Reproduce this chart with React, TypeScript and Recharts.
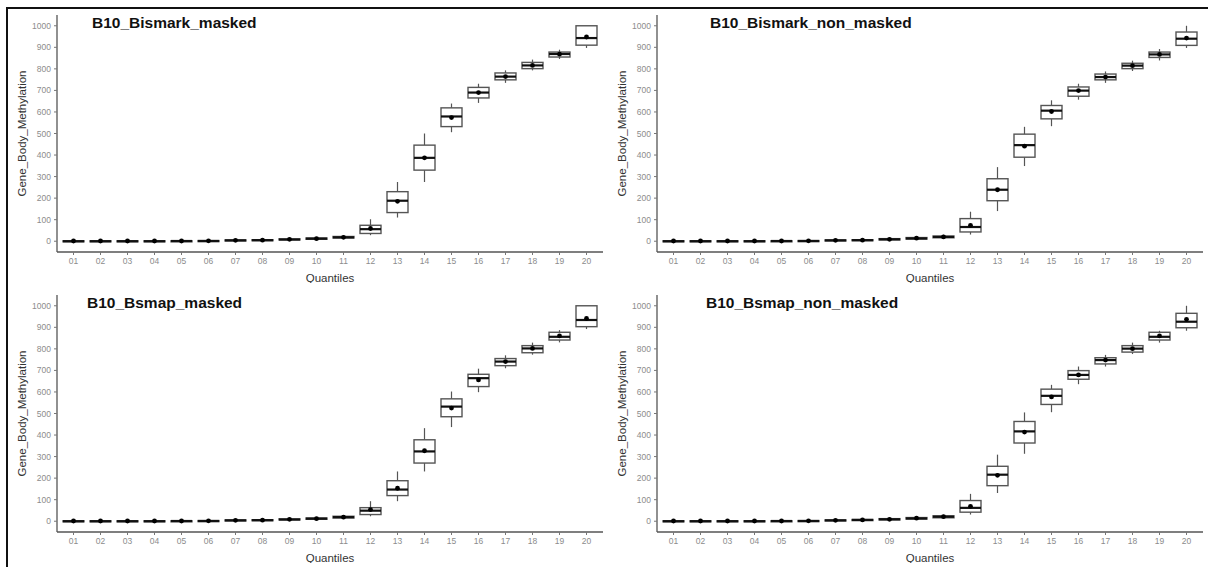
import React from 'react';
import { ComposedChart, Bar, XAxis, YAxis } from 'recharts';

// Quantile categories on the x axis
const quantiles = ['01', '02', '03', '04', '05', '06', '07', '08', '09', '10',
  '11', '12', '13', '14', '15', '16', '17', '18', '19', '20'];

const yTicks = [0, 100, 200, 300, 400, 500, 600, 700, 800, 900, 1000];

// each entry: [min, q1, median, q3, max, mean]
const bismarkMasked = [
  [0, 0, 0, 2, 4, 1], [0, 0, 0, 2, 4, 1], [0, 0, 0, 2, 4, 1], [0, 0, 0, 2, 4, 1],
  [0, 0, 1, 2, 5, 1], [0, 0, 1, 3, 5, 2], [1, 2, 4, 6, 9, 4], [2, 3, 5, 7, 10, 5],
  [3, 6, 8, 11, 15, 9], [5, 9, 12, 15, 20, 12], [10, 15, 18, 22, 28, 18],
  [28, 36, 56, 74, 102, 59], [110, 133, 188, 230, 275, 185], [275, 330, 387, 446, 500, 387],
  [506, 532, 579, 619, 639, 574], [642, 665, 690, 714, 731, 690], [735, 749, 764, 781, 793, 764],
  [793, 801, 816, 830, 843, 816], [846, 855, 869, 878, 889, 868], [897, 910, 943, 1000, 1000, 948],
];

const bismarkNonMasked = [
  [0, 0, 0, 2, 4, 1], [0, 0, 0, 2, 4, 1], [0, 0, 0, 2, 4, 1], [0, 0, 0, 2, 4, 1],
  [0, 0, 1, 2, 5, 1], [0, 0, 1, 3, 5, 2], [1, 2, 4, 6, 9, 4], [2, 3, 5, 7, 10, 5],
  [3, 6, 9, 12, 16, 9], [6, 10, 13, 17, 22, 14], [11, 16, 20, 24, 30, 20],
  [31, 43, 66, 105, 137, 74], [140, 188, 239, 290, 344, 239], [349, 390, 446, 497, 531, 441],
  [534, 568, 606, 630, 654, 602], [657, 673, 699, 716, 731, 699], [735, 749, 762, 776, 788, 762],
  [790, 801, 815, 826, 838, 815], [839, 853, 867, 878, 892, 867], [897, 909, 940, 971, 1000, 943],
];

const bsmapMasked = [
  [0, 0, 0, 2, 4, 1], [0, 0, 0, 2, 4, 1], [0, 0, 0, 2, 4, 1], [0, 0, 0, 2, 4, 1],
  [0, 0, 1, 2, 5, 1], [0, 0, 1, 3, 5, 2], [1, 2, 4, 6, 9, 4], [2, 3, 5, 7, 10, 5],
  [3, 6, 8, 11, 15, 9], [5, 9, 12, 15, 20, 12], [10, 15, 19, 23, 28, 19],
  [23, 31, 49, 63, 93, 54], [93, 119, 147, 188, 231, 153], [231, 270, 324, 378, 432, 327],
  [437, 485, 532, 568, 602, 525], [599, 625, 664, 682, 708, 656], [710, 722, 741, 755, 770, 741],
  [773, 782, 802, 815, 829, 802], [830, 841, 856, 877, 887, 860], [892, 903, 934, 1000, 1000, 941],
];

const bsmapNonMasked = [
  [0, 0, 0, 2, 4, 1], [0, 0, 0, 2, 4, 1], [0, 0, 0, 2, 4, 1], [0, 0, 0, 2, 4, 1],
  [0, 0, 1, 2, 5, 1], [0, 0, 1, 3, 5, 2], [1, 2, 4, 6, 9, 4], [2, 3, 6, 8, 11, 6],
  [3, 6, 9, 12, 16, 9], [6, 10, 13, 17, 22, 14], [11, 16, 21, 25, 30, 21],
  [31, 42, 62, 96, 127, 69], [131, 165, 216, 255, 309, 213], [313, 363, 417, 463, 505, 414],
  [506, 542, 582, 613, 633, 577], [636, 659, 679, 699, 718, 679], [718, 730, 748, 759, 772, 748],
  [776, 785, 801, 815, 829, 801], [829, 841, 856, 877, 884, 860], [884, 898, 926, 965, 1000, 937],
];

const FONT = '"Liberation Sans", Arial, sans-serif';

const toRows = (stats: number[][]) =>
  quantiles.map((q, i) => {
    const [min, q1, med, q3, max, mean] = stats[i];
    return { q, min, q1, med, q3, max, mean };
  });

// box + whiskers + median + mean dot, positioned inside the [min, max] range bar
const BoxShape = (props: any) => {
  const { x, y, width, height, payload } = props;
  const { min, q1, med, q3, max, mean } = payload;
  const top = Math.min(y, y + height);
  const bottom = Math.max(y, y + height);
  const span = max - min;
  const py = (v: number) => (span === 0 ? bottom : bottom - ((bottom - top) * (v - min)) / span);
  const cx = x + width / 2;
  const boxTop = py(q3);
  const boxH = Math.max(py(q1) - boxTop, 1);
  return (
    <g>
      <line x1={cx} x2={cx} y1={py(max)} y2={boxTop} stroke="#555" strokeWidth={1.2} />
      <line x1={cx} x2={cx} y1={boxTop + boxH} y2={py(min)} stroke="#555" strokeWidth={1.2} />
      <rect x={x} y={boxTop} width={width} height={boxH} fill="#fff" stroke="#555" strokeWidth={1.4} />
      <line x1={x} x2={x + width} y1={py(med)} y2={py(med)} stroke="#111" strokeWidth={2.2} />
      <circle cx={cx} cy={py(mean)} r={2.4} fill="#000" />
    </g>
  );
};

interface PanelProps {
  title: string;
  stats: number[][];
  left: number;
  top: number;
  titleX: number;
}

const Panel: React.FC<PanelProps> = ({ title, stats, left, top, titleX }) => {
  const data = toRows(stats);
  return (
    <div style={{ position: 'absolute', left, top, width: 606, height: 283 }}>
      <ComposedChart
        width={606}
        height={283}
        data={data}
        margin={{ top: 15, right: 3, left: 0, bottom: 1 }}
      >
        <XAxis
          dataKey="q"
          padding={{ left: 3, right: 3 }}
          height={30}
          tick={{ fontSize: 8.5, fill: '#8c8c8c', fontFamily: FONT }}
          tickLine={{ stroke: '#777' }}
          tickSize={3}
          tickMargin={3}
          axisLine={{ stroke: '#555', strokeWidth: 1.3 }}
          interval={0}
          label={{ value: 'Quantiles', position: 'insideBottom', offset: 0, fontSize: 11.5, fill: '#333', fontFamily: FONT }}
        />
        <YAxis
          domain={[-50, 1050]}
          ticks={yTicks}
          allowDataOverflow
          width={57}
          tick={{ fontSize: 8.5, fill: '#8c8c8c', fontFamily: FONT }}
          tickLine={{ stroke: '#777' }}
          tickSize={3}
          tickMargin={3}
          axisLine={{ stroke: '#555', strokeWidth: 1.3 }}
          label={{
            value: 'Gene_Body_Methylation',
            angle: -90,
            position: 'insideLeft',
            offset: 22,
            fontSize: 11.5,
            fill: '#333',
            fontFamily: FONT,
            style: { textAnchor: 'middle' },
          }}
        />
        <Bar
          dataKey={(d: any) => [d.min, d.max]}
          barSize={21}
          fill="none"
          shape={BoxShape}
          isAnimationActive={false}
        />
      </ComposedChart>
      <div
        style={{
          position: 'absolute',
          left: titleX,
          top: 14,
          fontFamily: FONT,
          fontWeight: 'bold',
          fontSize: 15.5,
          lineHeight: '18px',
          color: '#111',
          whiteSpace: 'nowrap',
        }}
      >
        {title}
      </div>
    </div>
  );
};

export default function App() {
  return (
    <div style={{ position: 'absolute', left: 0, top: 0, width: 1208, height: 567, background: '#fff', overflow: 'hidden' }}>
      <div
        style={{
          position: 'absolute',
          left: 6,
          top: 7,
          width: 1220,
          height: 580,
          borderTop: '2px solid #111',
          borderLeft: '2px solid #111',
        }}
      />
      <Panel title="B10_Bismark_masked" stats={bismarkMasked} left={0} top={0} titleX={92} />
      <Panel title="B10_Bismark_non_masked" stats={bismarkNonMasked} left={600} top={0} titleX={110} />
      <Panel title="B10_Bsmap_masked" stats={bsmapMasked} left={0} top={280} titleX={87} />
      <Panel title="B10_Bsmap_non_masked" stats={bsmapNonMasked} left={600} top={280} titleX={106} />
    </div>
  );
}
